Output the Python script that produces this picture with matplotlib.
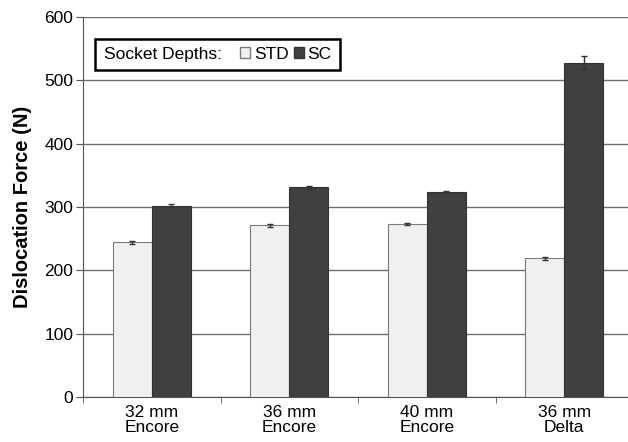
import numpy as np
import matplotlib
matplotlib.use('Agg')
import matplotlib.pyplot as plt
from matplotlib.patches import Patch

plt.rcParams['font.family'] = ['Liberation Sans', 'DejaVu Sans']

categories = ['32 mm\nEncore', '36 mm\nEncore', '40 mm\nEncore', '36 mm\nDelta']
std_vals = [244, 271, 273, 219]
sc_vals = [302, 331, 324, 528]
std_err = [2, 2, 2, 2]
sc_err = [2, 2, 1, 10]

fig = plt.figure(figsize=(6.28, 4.42), dpi=100)
# axis right edge runs slightly past the picture edge
ax = fig.add_axes([83/628, 1-397/442, 550/628, 380/442])

x = np.arange(len(categories))
w = 0.285
ax.bar(x - w/2, std_vals, w, color='#f0f0f0', edgecolor='#7a7a7a', linewidth=0.8,
       yerr=std_err, error_kw=dict(ecolor='#333333', elinewidth=1, capsize=2.5), zorder=3)
ax.bar(x + w/2, sc_vals, w, color='#404040', edgecolor='#333333', linewidth=0.8,
       yerr=sc_err, error_kw=dict(ecolor='#333333', elinewidth=1, capsize=2.5), zorder=3)

ax.set_xlim(-0.5, len(categories) - 0.5)
ax.set_ylim(0, 600)
ax.set_yticks(range(0, 601, 100))
ax.yaxis.grid(True, color='#6e6e6e', linewidth=1)
ax.set_axisbelow(True)

ax.set_xticks(x)
ax.set_xticklabels(categories, fontsize=12.5, linespacing=0.95)
ax.tick_params(axis='x', which='major', length=0, pad=6)
ax.set_xticks(np.arange(-0.5, len(categories), 1), minor=True)
ax.tick_params(axis='x', which='minor', length=4, color='#555555')
ax.tick_params(axis='y', length=5, color='#555555', labelsize=12.5, pad=2)

for s in ['top', 'right']:
    ax.spines[s].set_visible(False)
ax.spines['left'].set_color('#555555')
ax.spines['bottom'].set_color('#555555')

ax.set_ylabel('Dislocation Force (N)', fontsize=14.5, fontweight='bold', labelpad=9)

handles = [Patch(visible=False),
           Patch(facecolor='#f0f0f0', edgecolor='#7a7a7a'),
           Patch(facecolor='#404040', edgecolor='#333333')]
leg = ax.legend(handles, ['Socket Depths:', 'STD', 'SC'], ncol=3, loc='upper left',
                bbox_to_anchor=(0.006, 0.965), fontsize=12.5, frameon=True, fancybox=False,
                handlelength=0.6, handleheight=0.6, handletextpad=0.2, columnspacing=0.3,
                borderpad=0.45, edgecolor='black', framealpha=1)
leg.get_frame().set_linewidth(1.8)
leg.get_texts()[0].set_position((-13, 0))

plt.savefig('out.png', dpi=100)
